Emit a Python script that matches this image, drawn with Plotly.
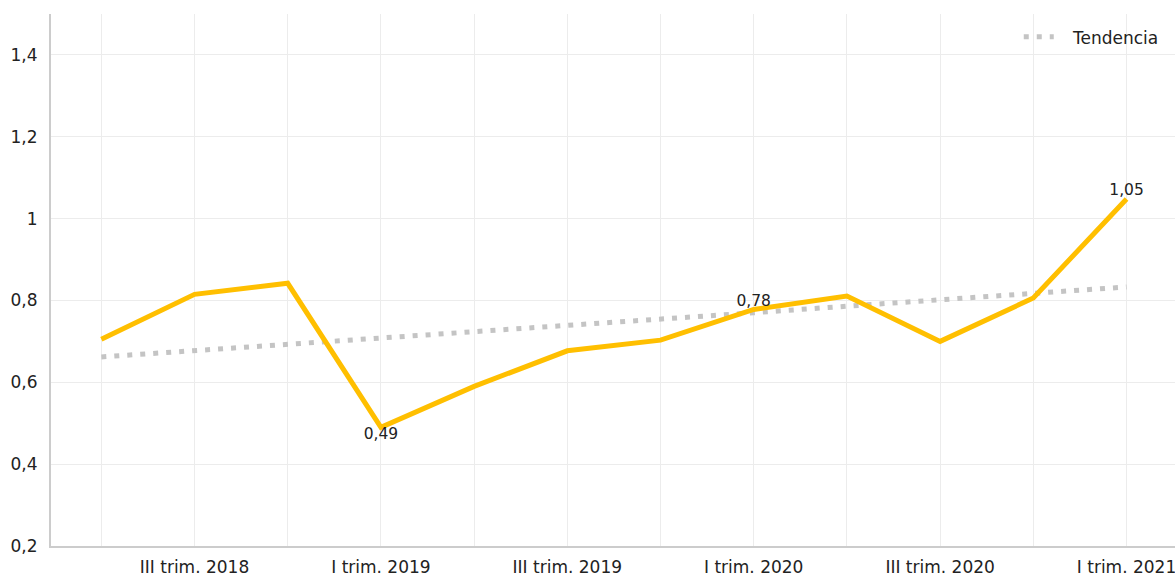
import plotly.graph_objects as go

trimestres = ["II trim. 2018", "III trim. 2018", "IV trim. 2018", "I trim. 2019",
              "II trim. 2019", "III trim. 2019", "IV trim. 2019", "I trim. 2020",
              "II trim. 2020", "III trim. 2020", "IV trim. 2020", "I trim. 2021"]
valores = [0.705, 0.815, 0.842, 0.49, 0.59, 0.677, 0.703, 0.778, 0.811, 0.70, 0.806, 1.048]
tendencia = [0.662, 0.677, 0.693, 0.708, 0.724, 0.739, 0.755, 0.770, 0.786, 0.801, 0.817, 0.833]
etiquetas = ["", "", "", "0,49", "", "", "", "0,78", "", "", "", "1,05"]
posiciones = ["top center"] * 3 + ["bottom center"] + ["top center"] * 8
etiquetas_eje = [t if i % 2 == 1 else "" for i, t in enumerate(trimestres)]

x = list(range(len(trimestres)))
font = "DejaVu Sans"

fig = go.Figure()
fig.add_trace(go.Scatter(
    x=x, y=tendencia, mode="lines", name="\u00a0\u00a0\u2009Tendencia",
    line=dict(color="#c4c4c4", width=5, dash="5px,8px"),
    hoverinfo="skip", showlegend=True,
))
fig.add_trace(go.Scatter(
    x=x, y=valores, mode="lines+text", name="Valor",
    line=dict(color="#FFBF00", width=5),
    text=etiquetas, textposition=posiciones,
    textfont=dict(family=font, size=15.5, color="#222222"),
    showlegend=False,
))

fig.update_layout(
    width=1175, height=576,
    margin=dict(l=51, r=0, t=14, b=30, autoexpand=False),
    paper_bgcolor="white", plot_bgcolor="white",
    separators=",.",
    font=dict(family=font, size=17, color="#222222"),
    legend=dict(x=0.99, xanchor="right", y=0.99, yanchor="top",
                font=dict(family=font, size=17, color="#222222"),
                bgcolor="rgba(0,0,0,0)"),
    xaxis=dict(
        range=[-0.54, 11.52],
        tickmode="array", tickvals=x, ticktext=etiquetas_eje,
        showgrid=True, gridcolor="#ececec", gridwidth=1,
        showline=True, linecolor="#cccccc", linewidth=2,
        ticks="", zeroline=False, automargin=False,
        ticklabelstandoff=5, ticklabeloverflow="allow",
        tickfont=dict(family=font, size=17, color="#222222"),
    ),
    yaxis=dict(
        range=[0.2, 1.5], tickvals=[0.2, 0.4, 0.6, 0.8, 1.0, 1.2, 1.4],
        showgrid=True, gridcolor="#ececec", gridwidth=1,
        showline=True, linecolor="#cccccc", linewidth=2,
        ticks="", zeroline=False, automargin=False,
        ticklabelstandoff=8,
        tickfont=dict(family=font, size=17, color="#222222"),
    ),
)

fig.write_html(
    "out.html",
    config={"displayModeBar": False},
    post_script="document.body.style.margin='0';document.body.style.overflow='hidden';",
)
